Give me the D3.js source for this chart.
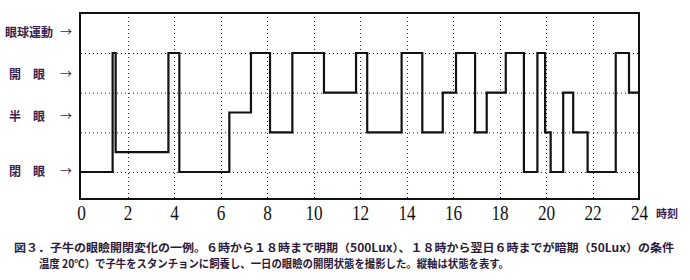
<!DOCTYPE html>
<html>
<head>
<meta charset="utf-8">
<script src="https://cdn.jsdelivr.net/npm/d3@7"></script>
<style>
  body { margin: 0; background: #fff; }
  svg { display: block; }
</style>
</head>
<body>
<svg id="chart" width="690" height="280"></svg>
<script>
// state changes: [hour, level]  (0 = 閉眼 ... 6 = 開眼 line)
const changeHours = [0, 1.36, 1.49, 3.76, 4.23, 6.38, 7.31, 8.13, 9.09, 10.45, 11.83, 12.31, 13.79,
  14.68, 15.56, 16.13, 16.95, 17.45, 18.27, 19.05, 19.63, 19.96, 20.2, 20.74, 21.17, 21.79, 23.0, 23.57, 24];
const changeLevels = [0, 6, 1, 6, 0, 3, 6, 2, 6, 4, 6, 2, 6,
  2, 4, 6, 2, 4, 6, 0, 6, 2, 0, 4, 2, 0, 6, 4, 4];

const hourTicks = [0, 2, 4, 6, 8, 10, 12, 14, 16, 18, 20, 22, 24];
const gridLevels = [6, 4, 2, 0];
const stateLabels = ['眼球運動', '開　眼', '半　眼', '閉　眼'];
const stateLabelLevels = [7, 4.9, 2.8, 0];

const captionLines = [
  '図３．子牛の眼瞼開閉変化の一例。６時から１８時まで明期（500Lux）、１８時から翌日６時までが暗期（50Lux）の条件',
  '温度 20℃）で子牛をスタンチョンに飼養し、一日の眼瞼の開閉状態を撮影した。縦軸は状態を表す。'
];

const svg = d3.select('#chart');
const frameTop = 13, frameBottom = 199;
const purple = '#3b1d4e';

const x = d3.scaleLinear().domain([0, 24]).range([81, 639]);
const y = d3.scaleLinear().domain([0, 6]).range([172, 53]);

// grid
const grid = svg.append('g').attr('stroke', '#222').attr('stroke-width', 1).attr('stroke-dasharray', '1,3');
grid.selectAll('.h').data(gridLevels).enter().append('line')
  .attr('x1', x(0)).attr('x2', x(24))
  .attr('y1', d => y(d) + 0.5).attr('y2', d => y(d) + 0.5);
grid.selectAll('.v').data(hourTicks.slice(1, -1)).enter().append('line')
  .attr('x1', d => Math.round(x(d)) + 0.5).attr('x2', d => Math.round(x(d)) + 0.5)
  .attr('y1', frameTop).attr('y2', frameBottom);

// frame
svg.append('rect')
  .attr('x', x(0) - 1).attr('y', frameTop)
  .attr('width', x(24) - x(0) + 1).attr('height', frameBottom - frameTop)
  .attr('fill', 'none').attr('stroke', '#111').attr('stroke-width', 2);

// trace
const points = changeHours.map((h, i) => [h, changeLevels[i]]);
const line = d3.line().x(d => x(d[0])).y(d => y(d[1])).curve(d3.curveStepAfter);
svg.append('path')
  .attr('d', line(points))
  .attr('fill', 'none').attr('stroke', '#111').attr('stroke-width', 2.2)
  .attr('stroke-linejoin', 'miter');

// x axis
const axis = svg.append('g')
  .attr('transform', `translate(0,${frameBottom})`)
  .call(d3.axisBottom(x).tickValues(hourTicks).tickSize(0).tickPadding(5).tickFormat(d3.format('d')));
axis.select('.domain').remove();
axis.selectAll('text')
  .attr('fill', '#111')
  .attr('font-family', '"Liberation Serif", "DejaVu Serif", serif')
  .attr('font-size', 21)
  .attr('transform', 'scale(0.82,1)')
  .attr('dy', '0.75em');

svg.append('text')
  .attr('x', 656).attr('y', 218)
  .attr('fill', purple)
  .attr('font-family', '"Noto Sans CJK JP", sans-serif')
  .attr('font-weight', 'bold').attr('font-size', 11)
  .text('時刻');

// state labels on the left
const lab = svg.append('g').attr('font-family', '"Noto Sans CJK JP", sans-serif')
  .attr('font-weight', 'bold').attr('font-size', 12).attr('fill', purple);
lab.selectAll('.s').data(stateLabels).enter().append('text')
  .attr('x', (d, i) => i === 0 ? 5 : 9)
  .attr('y', (d, i) => y(stateLabelLevels[i]))
  .attr('dy', '0.35em')
  .text(d => d);
lab.selectAll('.a').data(stateLabels).enter().append('text')
  .attr('x', 60)
  .attr('y', (d, i) => y(stateLabelLevels[i]))
  .attr('dy', '0.35em')
  .attr('font-weight', 'normal')
  .text('→');

// caption
svg.append('text')
  .attr('x', 14).attr('y', 252)
  .attr('textLength', 660).attr('lengthAdjust', 'spacingAndGlyphs')
  .attr('fill', '#2a1a3a')
  .attr('font-family', '"Noto Sans CJK JP", sans-serif')
  .attr('font-weight', 'bold').attr('font-size', 11)
  .text(captionLines[0]);
svg.append('text')
  .attr('x', 39).attr('y', 268)
  .attr('textLength', 470).attr('lengthAdjust', 'spacingAndGlyphs')
  .attr('fill', '#2a1a3a')
  .attr('font-family', '"Noto Sans CJK JP", sans-serif')
  .attr('font-weight', 'bold').attr('font-size', 11)
  .text(captionLines[1]);
</script>
</body>
</html>
